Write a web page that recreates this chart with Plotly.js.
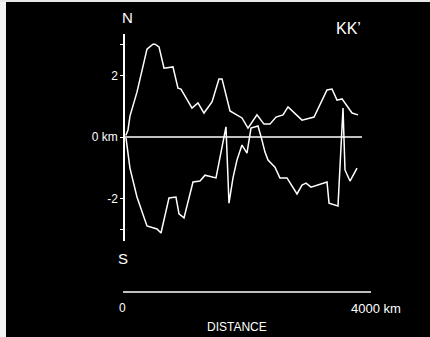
<!DOCTYPE html>
<html>
<head>
<meta charset="utf-8">
<script src="https://cdn.plot.ly/plotly-3.0.1.min.js"></script>
<style>html,body{margin:0;padding:0;background:#000;}#chart{width:430px;height:337px;}</style>
</head>
<body>
<div id="chart"></div>
<script>
// Distance along profile (km) and displacement (km), North (upper) curve
const northDist = [30, 66, 98, 213, 377, 475, 508, 574, 656, 803, 885, 934, 1115, 1213, 1311, 1443, 1557, 1607, 1738, 1934, 2033, 2180, 2295, 2393, 2492, 2607, 2689, 2803, 2918, 3115, 3295, 3328, 3410, 3492, 3574, 3738, 3836];
const northVal  = [0.05, 0.23, 0.68, 1.46, 2.86, 3.02, 3.02, 2.93, 2.24, 2.28, 1.59, 1.56, 0.94, 1.11, 0.78, 1.14, 1.89, 1.89, 0.85, 0.62, 0.29, 0.72, 0.42, 0.42, 0.65, 0.72, 0.98, 0.75, 0.55, 0.65, 1.43, 1.53, 1.56, 1.20, 1.24, 0.78, 0.72];
// South (lower) curve
const southDist = [33, 98, 213, 377, 541, 607, 738, 852, 902, 984, 1131, 1246, 1328, 1508, 1672, 1721, 1787, 1852, 1934, 2016, 2082, 2197, 2262, 2311, 2361, 2475, 2557, 2672, 2836, 2918, 2984, 3066, 3328, 3361, 3508, 3590, 3623, 3705, 3820];
const southVal  = [-0.03, -1.01, -1.95, -2.89, -2.99, -3.12, -1.98, -1.95, -2.50, -2.63, -1.46, -1.43, -1.24, -1.33, 0.33, -2.15, -1.33, -0.75, -0.26, -0.52, 0.29, 0.36, -0.10, -0.49, -0.75, -0.98, -1.33, -1.33, -1.85, -1.56, -1.50, -1.63, -1.46, -2.15, -2.24, 0.94, -1.07, -1.43, -1.01];
// Tick labels
const yTickVals = [-3, -2, 0, 2, 3];
const yTickText = ['', '-2', '0 km', '2', ''];
const xLabelVals = [0, 4000];
const xLabelText = ['0', '4000 km'];
const zeroLineEnd = 3902;

const FONT = 'Liberation Sans, Arial, Helvetica, sans-serif';
const lineStyle = {color: '#ffffff', width: 1.5};

const traces = [
  {x: northDist, y: northVal, type: 'scatter', mode: 'lines', line: lineStyle},
  {x: southDist, y: southVal, type: 'scatter', mode: 'lines', line: lineStyle}
];

// plot area: left 123px, width 248px, top 34px, height 258px (bottom at 292px)
const PL = 123, PW = 248, PT = 34, PH = 258;
const px = v => (v - PL) / PW;
const py = v => (PT + PH - v) / PH;

const layout = {
  width: 430, height: 337,
  margin: {l: PL, r: 430 - PL - PW, t: PT, b: 337 - PT - PH, pad: 0},
  paper_bgcolor: '#000000',
  plot_bgcolor: '#000000',
  showlegend: false,
  hovermode: false,
  font: {family: FONT, color: '#ffffff', size: 11},
  xaxis: {
    domain: [0, 1],
    range: [-16, 4049],
    showline: false, zeroline: false, showgrid: false,
    showticklabels: false, ticks: ''
  },
  yaxis: {
    domain: [py(241), 1],
    range: [-3.38, 3.35],
    anchor: 'free', position: px(124),
    showline: true, linecolor: '#ffffff', linewidth: 1.5,
    zeroline: false,
    showgrid: false,
    ticks: 'outside', ticklen: 3, tickcolor: '#ffffff', tickwidth: 1,
    tickvals: yTickVals, ticktext: yTickText,
    tickfont: {family: FONT, size: 12, color: '#ffffff'}
  },
  annotations: [
    {text: 'N', xref: 'paper', yref: 'paper', x: px(127), y: py(17), xanchor: 'center', yanchor: 'middle', showarrow: false, font: {family: FONT, size: 15, color: '#ffffff'}},
    {text: 'S', xref: 'paper', yref: 'paper', x: px(123), y: py(258), xanchor: 'center', yanchor: 'middle', showarrow: false, font: {family: FONT, size: 15, color: '#ffffff'}},
    {text: "KK’", xref: 'paper', yref: 'paper', x: px(348), y: py(29), xanchor: 'center', yanchor: 'middle', showarrow: false, font: {family: FONT, size: 16, color: '#ffffff'}},
    {text: xLabelText[0], xref: 'x', yref: 'paper', x: xLabelVals[0], y: 0, xanchor: 'center', yanchor: 'top', xshift: -1, yshift: -7, showarrow: false, font: {family: FONT, size: 12, color: '#ffffff'}},
    {text: xLabelText[1], xref: 'x', yref: 'paper', x: xLabelVals[1], y: 0, xanchor: 'center', yanchor: 'top', xshift: 8, yshift: -7, showarrow: false, font: {family: FONT, size: 13, color: '#ffffff'}},
    {text: 'DISTANCE', xref: 'paper', yref: 'paper', x: px(237), y: py(327), xanchor: 'center', yanchor: 'middle', showarrow: false, font: {family: FONT, size: 12, color: '#ffffff'}}
  ],
  shapes: [
    // zero (0 km) reference line
    {type: 'line', xref: 'x', yref: 'y', x0: 0, x1: zeroLineEnd, y0: 0, y1: 0, line: {color: '#ffffff', width: 1.6}},
    // distance scale line
    {type: 'line', xref: 'paper', yref: 'paper', x0: 0, x1: 1, y0: 0, y1: 0, line: {color: '#ffffff', width: 1.4}},
    // scan edges
    {type: 'rect', xref: 'paper', yref: 'paper', x0: px(0), x1: px(6), y0: py(337), y1: py(0), fillcolor: '#f4f4f4', line: {width: 0}},
    {type: 'rect', xref: 'paper', yref: 'paper', x0: px(0), x1: px(430), y0: py(2), y1: py(0), fillcolor: '#e8e8e8', line: {width: 0}}
  ]
};

Plotly.newPlot('chart', traces, layout, {displayModeBar: false});
</script>
</body>
</html>
